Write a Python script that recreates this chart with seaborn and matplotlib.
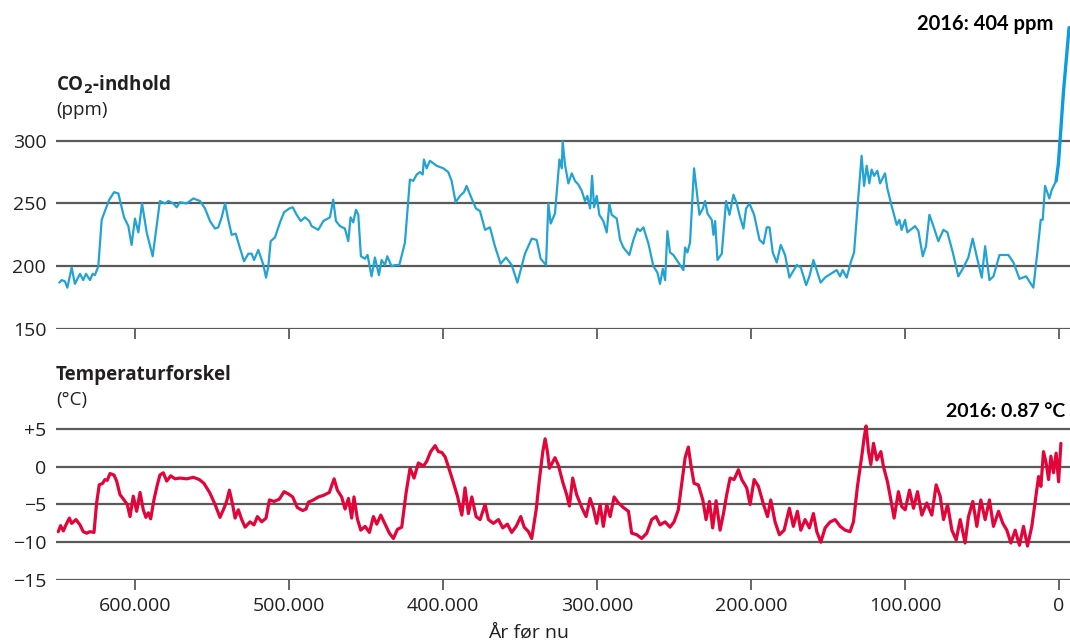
import numpy as np
import pandas as pd
import matplotlib
matplotlib.use("Agg")
import matplotlib.pyplot as plt
import seaborn as sns

# CO2 (ppm) against age in thousand years before now
co2_age = [649.1, 647.6, 645.5, 643.9, 641.1, 639.0, 635.7, 633.6, 631.8, 629.2, 627.5, 626.0,
           623.8, 621.6, 619.5, 616.7, 613.6, 610.8, 607.1, 604.3, 602.2, 600.0, 597.8, 595.4,
           592.4, 588.5, 585.9, 583.8, 580.5, 578.3, 575.1, 572.9, 570.8, 566.4, 562.1, 557.8,
           554.5, 551.3, 548.0, 545.9, 543.7, 541.5, 539.4, 537.2, 534.6, 532.2, 529.2, 526.4,
           524.2, 522.7, 519.9, 516.6, 514.9, 513.4, 511.9, 509.1, 505.8, 503.2, 499.8, 497.6,
           495.0, 492.4, 489.6, 486.8, 485.3, 481.0, 477.7, 473.4, 471.3, 469.5, 466.9, 463.7,
           461.5, 460.0, 458.3, 456.5, 455.0, 453.3, 450.7, 449.0, 446.4, 444.2, 441.6, 439.9,
           437.7, 436.2, 433.4, 431.2, 428.4, 426.9, 424.7, 423.2, 421.5, 419.3, 417.1, 415.0,
           413.2, 412.4, 410.6, 408.5, 404.1, 399.8, 396.6, 394.4, 391.8, 389.0, 386.4, 384.7,
           381.4, 378.6, 376.0, 372.7, 369.5, 366.3, 362.6, 359.1, 355.4, 351.7, 346.8, 342.4,
           339.2, 336.6, 333.1, 331.6, 330.1, 327.3, 324.4, 322.9, 322.3, 320.8, 318.6, 316.4,
           314.3, 312.1, 309.9, 307.8, 306.3, 304.5, 303.2, 301.9, 300.2, 298.5, 295.9, 293.7,
           292.0, 290.5, 287.2, 285.0, 282.9, 279.0, 276.4, 273.8, 272.0, 269.9, 266.6, 263.4,
           260.8, 259.1, 257.3, 255.8, 254.3, 252.6, 250.4, 247.2, 243.9, 242.8, 241.3, 239.6,
           237.0, 233.5, 231.3, 229.8, 228.3, 225.5, 224.4, 223.3, 221.8, 219.0, 216.2, 214.0,
           211.4, 209.3, 207.1, 204.9, 203.2, 201.0, 198.0, 194.5, 191.9, 189.8, 188.0, 185.9,
           183.3, 180.7, 177.9, 175.1, 170.3, 167.7, 164.2, 162.1, 159.5, 154.8, 152.0, 144.4,
           142.2, 140.5, 137.9, 135.3, 133.1, 130.3, 128.2, 126.6, 124.9, 123.2, 121.7, 120.1,
           118.0, 116.2, 113.0, 111.5, 108.7, 105.4, 103.7, 102.2, 100.0, 98.5, 93.5, 91.3,
           88.5, 86.4, 84.2, 81.6, 78.4, 75.1, 72.5, 69.0, 65.4, 62.1, 58.9, 56.1,
           53.5, 50.2, 48.0, 45.2, 42.6, 38.7, 32.9, 29.6, 25.7, 21.4, 16.7, 14.1,
           11.9, 10.6, 9.1, 6.3, 4.7, 1.9]
co2_ppm = [187, 189, 188, 183, 199, 186, 194, 189, 194, 189, 194, 193,
           200, 237, 244, 253, 259, 258, 239, 232, 217, 238, 227, 250,
           227, 208, 232, 252, 250, 252, 250, 247, 251, 250, 254, 252,
           246, 236, 230, 231, 239, 250, 237, 225, 226, 216, 204, 210,
           210, 205, 213, 201, 191, 200, 220, 223, 235, 243, 246, 247,
           241, 236, 239, 236, 232, 229, 236, 239, 253, 236, 232, 230,
           220, 239, 235, 245, 241, 208, 206, 209, 192, 207, 193, 205,
           201, 208, 200, 201, 201, 208, 219, 242, 269, 268, 273, 275,
           273, 285, 278, 284, 280, 278, 275, 268, 251, 256, 259, 264,
           254, 246, 244, 229, 231, 216, 202, 207, 201, 187, 210, 222,
           221, 206, 201, 250, 234, 242, 285, 278, 299.5, 281, 266, 274,
           268, 265, 260, 252, 256, 246, 272, 247, 256, 241, 236, 227,
           250, 241, 238, 221, 215, 209, 221, 230, 228, 231, 218, 200,
           195, 186, 198, 189, 228, 211, 209, 203, 197, 215, 211, 219,
           278, 241, 246, 252, 242, 237, 225, 236, 205, 210, 252, 241,
           257, 250, 239, 230, 246, 250, 241, 221, 218, 231, 231, 211,
           203, 217, 209, 191, 201, 199, 185, 192, 205, 187, 191, 197,
           192, 197, 191, 203, 211, 256, 288, 264, 280, 266, 277, 272,
           276, 266, 274, 262, 248, 233, 237, 229, 237, 227, 232, 228,
           208, 216, 241, 232, 220, 229, 227, 211, 192, 199, 207, 222,
           208, 191, 216, 189, 192, 209, 209, 203, 190, 192, 183, 211,
           237, 237, 264, 254, 261, 268]

# industrial era rise up to 2016
modern_age = [1.9, 0.4, -2.8, -6.5]
modern_ppm = [268, 282, 338, 390]

# temperature difference (deg C)
temp_age = [649.8, 648.3, 646.5, 644.8, 642.6, 641.1, 638.3, 635.7, 633.6, 631.4, 629.2, 626.6,
            624.9, 623.2, 621.0, 619.5, 618.0, 616.2, 613.6, 611.9, 609.7, 607.1, 605.0, 603.2,
            601.1, 598.9, 596.7, 594.6, 592.9, 591.3, 589.8, 587.7, 585.5, 583.8, 581.6, 579.4,
            576.8, 574.0, 570.8, 566.4, 562.1, 558.2, 555.2, 551.3, 548.0, 544.8, 542.2, 540.5,
            538.7, 536.6, 535.0, 532.9, 530.7, 528.5, 525.3, 522.7, 520.5, 517.7, 514.9, 512.7,
            509.7, 506.3, 503.2, 500.4, 497.6, 494.6, 491.1, 488.9, 487.4, 484.2, 480.9, 477.7,
            473.8, 470.7, 468.6, 465.8, 463.6, 461.4, 459.3, 457.8, 455.6, 453.4, 450.6, 447.8,
            445.2, 443.0, 440.4, 437.6, 434.8, 432.2, 429.6, 426.8, 424.0, 421.4, 418.8, 416.0,
            412.7, 410.6, 408.0, 405.1, 403.0, 400.8, 398.6, 396.5, 393.7, 390.6, 387.8, 385.7,
            383.5, 381.3, 378.5, 375.9, 372.7, 370.5, 367.3, 364.0, 361.2, 358.2, 355.4, 352.5,
            349.5, 347.3, 344.5, 342.4, 339.5, 337.4, 335.2, 333.7, 332.2, 330.9, 327.3, 325.1,
            322.3, 319.7, 317.9, 315.8, 313.2, 309.9, 307.1, 304.5, 302.4, 300.2, 298.0, 295.9,
            293.7, 291.5, 288.9, 286.1, 282.9, 279.6, 277.5, 274.2, 271.0, 267.7, 264.5, 261.7,
            259.1, 255.8, 252.6, 250.0, 247.2, 245.0, 242.8, 240.7, 239.1, 237.0, 234.2, 231.3,
            229.2, 227.0, 224.9, 222.7, 220.1, 217.9, 215.8, 213.6, 211.0, 208.2, 206.0, 202.8,
            200.6, 198.0, 195.2, 191.9, 189.3, 187.2, 184.4, 181.6, 178.5, 175.1, 172.5, 169.9,
            167.7, 164.9, 162.1, 159.5, 157.3, 154.7, 151.9, 148.6, 145.4, 142.1, 138.9, 135.7,
            133.5, 130.9, 128.1, 126.6, 125.3, 123.7, 122.2, 120.5, 118.3, 115.7, 114.0, 111.4,
            109.2, 107.1, 104.3, 102.1, 99.9, 97.1, 94.5, 91.9, 89.1, 85.9, 82.6, 79.8,
            77.2, 75.0, 72.4, 69.6, 66.8, 64.2, 61.0, 58.8, 56.0, 53.4, 50.8, 48.0,
            45.2, 42.6, 39.3, 36.5, 33.9, 31.3, 28.5, 25.7, 23.1, 20.5, 17.7, 15.5,
            13.3, 11.8, 10.1, 8.4, 6.8, 5.3, 3.6, 1.9, 0.3, -1.2]
temp_c = [-8.6, -7.8, -8.5, -7.7, -6.8, -7.5, -7.0, -7.7, -8.6, -8.8, -8.6, -8.7,
          -4.8, -2.4, -2.2, -1.7, -1.8, -0.9, -1.1, -1.9, -3.7, -4.4, -5.0, -6.6,
          -3.9, -5.9, -3.4, -5.7, -6.7, -6.1, -6.9, -4.4, -2.4, -1.1, -0.8, -1.9,
          -1.2, -1.6, -1.5, -1.6, -1.4, -1.7, -2.2, -3.5, -5.0, -6.7, -5.5, -4.6,
          -3.1, -5.0, -6.8, -5.7, -7.0, -8.0, -7.3, -7.7, -6.6, -7.3, -6.8, -4.4,
          -4.6, -4.3, -3.3, -3.6, -4.0, -5.4, -5.8, -5.6, -4.7, -4.4, -4.0, -3.8,
          -3.4, -1.6, -3.1, -4.0, -5.6, -4.2, -6.8, -4.0, -6.9, -8.4, -7.9, -8.7,
          -6.6, -7.6, -6.4, -7.6, -8.8, -9.5, -8.3, -8.0, -3.5, -0.2, -1.5, 0.5,
          0.1, 0.7, 2.0, 2.8, 2.0, 1.9, 1.3, 0.0, -1.8, -3.9, -6.4, -2.8,
          -6.2, -4.0, -6.6, -7.0, -5.0, -7.0, -7.5, -7.0, -8.1, -7.6, -8.7, -7.9,
          -6.6, -8.0, -8.6, -9.5, -5.7, -1.7, 2.0, 3.7, 2.0, -0.2, 1.2, 0.2,
          -2.0, -3.7, -5.2, -1.5, -3.7, -5.4, -6.6, -4.2, -5.5, -7.5, -5.0, -7.9,
          -5.0, -6.6, -4.0, -4.8, -5.4, -5.9, -8.8, -9.0, -9.5, -8.8, -7.0, -6.6,
          -7.7, -7.3, -8.0, -7.3, -5.7, -2.2, 1.2, 2.6, 0.3, -2.2, -2.4, -4.4,
          -7.0, -4.6, -8.1, -4.5, -8.4, -6.2, -3.7, -1.5, -1.7, -0.4, -1.7, -2.8,
          -5.0, -1.7, -2.6, -5.0, -6.6, -4.4, -7.3, -9.0, -8.4, -5.5, -7.9, -5.9,
          -8.4, -7.0, -8.1, -6.2, -8.6, -10.0, -8.1, -7.3, -7.0, -7.9, -8.4, -8.6,
          -7.3, -2.6, 1.4, 3.8, 5.4, 2.0, 0.3, 3.1, 0.9, 2.0, 0.0, -2.0,
          -4.4, -6.8, -3.3, -5.3, -5.7, -3.1, -5.5, -3.3, -6.4, -4.8, -6.4, -2.4,
          -3.9, -7.0, -5.0, -8.4, -9.7, -7.0, -10.1, -6.6, -4.6, -7.9, -4.4, -7.0,
          -4.4, -7.9, -5.9, -7.5, -8.4, -10.1, -8.4, -10.4, -7.9, -10.5, -7.9, -4.6,
          -1.3, -2.6, 2.0, 0.5, -1.7, 1.4, -0.8, 1.8, -2.0, 3.1]

co2_ticks = [150, 200, 250, 300]
temp_ticks = [-15, -10, -5, 0, 5]
temp_labels = ["\u221215", "\u221210", "\u22125", "0", "+5"]
x_ticks = [600, 500, 400, 300, 200, 100, 0]
x_labels = ["600.000", "500.000", "400.000", "300.000", "200.000", "100.000", "0"]

co2_df = pd.DataFrame({"age": co2_age, "ppm": co2_ppm})
modern_df = pd.DataFrame({"age": modern_age, "ppm": modern_ppm})
temp_df = pd.DataFrame({"age": temp_age, "temp": temp_c})

sns.set_theme(style="white")
plt.rcParams["font.family"] = ["Open Sans", "DejaVu Sans"]

BLUE = "#22a3d3"
BLUE2 = "#0b9de0"
RED = "#e3053a"
GRID = "#5a5a5a"
TXT = "#231f20"
FS = 14

fig = plt.figure(figsize=(10.7, 6.44), dpi=100)
ax1 = fig.add_axes([0.0523, 0.489, 0.9477, 0.511])
ax2 = fig.add_axes([0.0523, 0.0994, 0.9477, 0.264])

sns.lineplot(data=co2_df, x="age", y="ppm", ax=ax1, color=BLUE, lw=1.6, sort=False)
sns.lineplot(data=modern_df, x="age", y="ppm", ax=ax1, color=BLUE2, lw=2.4, sort=False)
sns.lineplot(data=temp_df, x="age", y="temp", ax=ax2, color=RED, lw=2.3, sort=False)

for ax in (ax1, ax2):
    ax.set_xlim(651.3, -7.1)
    ax.set_xticks(x_ticks)
    for s in ax.spines.values():
        s.set_visible(False)
    ax.yaxis.grid(True, color=GRID, lw=1.6)
    ax.set_axisbelow(True)
    ax.set_xlabel("")
    ax.set_ylabel("")
    ax.tick_params(axis="y", left=False, length=0, labelsize=FS, colors=TXT, pad=7)
    ax.tick_params(axis="x", bottom=True, length=7, width=1.3, color=GRID,
                   labelsize=FS, labelcolor=TXT, pad=5)
    ax.patch.set_alpha(0)

ax1.set_ylim(150, 412)
ax1.set_yticks(co2_ticks)
ax1.set_xticklabels([])

ax2.set_ylim(-15, 7.52)
ax2.set_yticks(temp_ticks)
ax2.set_yticklabels(temp_labels)
ax2.set_xticklabels(x_labels)

fig.text(0.4935, 0.018, "År før nu", fontsize=FS, color=TXT, ha="center", va="center")

fig.text(0.0523, 0.868, r"CO$_{\mathbf{2}}$-indhold", fontsize=13.5, fontweight="bold",
         color=TXT, va="center")
fig.text(0.0523, 0.829, "(ppm)", fontsize=13.5, color=TXT, va="center")
fig.text(0.0523, 0.418, "Temperaturforskel", fontsize=13.5, fontweight="bold",
         color=TXT, va="center")
fig.text(0.0523, 0.379, "(°C)", fontsize=13.5, color=TXT, va="center")

fig.text(0.984, 0.962, "2016: 404 ppm", fontsize=14.5, fontweight="bold", color="black",
         ha="right", va="center", family=["Lato", "DejaVu Sans"])
fig.text(0.996, 0.361, "2016: 0.87 \u00b0C", fontsize=14, fontweight="bold", color="black",
         ha="right", va="center", family=["Lato", "DejaVu Sans"])

fig.savefig("out.png", dpi=100)
